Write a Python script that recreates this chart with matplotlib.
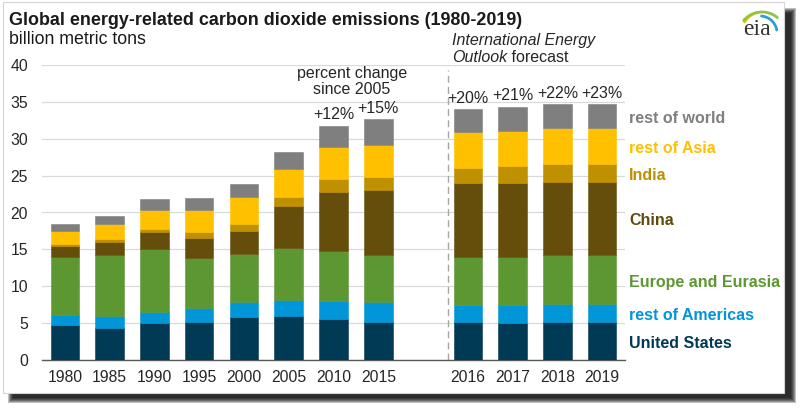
import numpy as np
import matplotlib
matplotlib.use('Agg')
import matplotlib.pyplot as plt
from matplotlib.patches import Rectangle

plt.rcParams['font.family'] = ['Liberation Sans', 'DejaVu Sans']

# ---- data (billion metric tons) ----
years = ['1980', '1985', '1990', '1995', '2000', '2005', '2010', '2015',
         '2016', '2017', '2018', '2019']
us = [4.7, 4.4, 5.0, 5.2, 5.8, 6.0, 5.6, 5.2, 5.2, 5.0, 5.2, 5.2]
rest_americas = [1.4, 1.5, 1.5, 1.9, 2.0, 2.2, 2.4, 2.6, 2.3, 2.5, 2.4, 2.4]
europe_eurasia = [7.9, 8.3, 8.6, 6.7, 6.6, 7.0, 6.8, 6.4, 6.5, 6.5, 6.6, 6.6]
china = [1.5, 1.8, 2.3, 2.8, 3.1, 5.7, 8.0, 8.8, 10.0, 10.0, 10.0, 10.0]
india = [0.2, 0.35, 0.4, 0.7, 0.9, 1.2, 1.8, 1.8, 2.1, 2.3, 2.4, 2.4]
rest_asia = [1.8, 2.1, 2.6, 3.1, 3.7, 3.8, 4.3, 4.4, 4.8, 4.75, 4.85, 4.85]
rest_world = [1.0, 1.05, 1.4, 1.6, 1.8, 2.35, 2.85, 3.45, 3.1, 3.25, 3.2, 3.2]
pct_change = ['', '', '', '', '', '', '+12%', '+15%', '+20%', '+21%', '+22%', '+23%']
n_history = 8

series = [
    ('United States', us, '#003a54', '#003953'),
    ('rest of Americas', rest_americas, '#0096d7', '#0096d7'),
    ('Europe and Eurasia', europe_eurasia, '#5d9732', '#5d9732'),
    ('China', china, '#654e0b', '#5f4b0b'),
    ('India', india, '#bf9000', '#bf9000'),
    ('rest of Asia', rest_asia, '#ffc000', '#ffc000'),
    ('rest of world', rest_world, '#7f7f7f', '#7f7f7f'),
]

W, H = 800, 411
fig = plt.figure(figsize=(W / 100, H / 100), dpi=100)

# overlay in pixel coords (top-left origin) for frame, titles, logo
ov = fig.add_axes([0, 0, 1, 1], zorder=-1)
ov.set_xlim(0, W)
ov.set_ylim(H, 0)
ov.axis('off')

# blurred drop shadow + white card
for k in range(6):
    ov.add_patch(Rectangle((8 + k, 8 + k), 788 - 2 * k, 395 - 2 * k,
                           facecolor='black', edgecolor='none', alpha=0.25))
ov.add_patch(Rectangle((3, 2), 781, 391, facecolor='white',
                       edgecolor='#d4d4d4', lw=0.8))

ov.text(9, 25, 'Global energy-related carbon dioxide emissions (1980-2019)',
        fontsize=12.9, fontweight='bold', color='#1a1a1a', va='baseline')
ov.text(9, 44, 'billion metric tons', fontsize=12.8, color='#1a1a1a',
        va='baseline')

ov.text(452, 45, 'International Energy', fontsize=11.5, style='italic',
        color='#262626', va='baseline')
t_out = ov.text(452, 62.5, 'Outlook', fontsize=11.5, style='italic',
                color='#262626', va='baseline')

# eia logo
ov.text(757, 35, 'eia', fontsize=17, family='Liberation Serif',
        color='#333333', ha='center', va='baseline')
for (cx, cy, r, t0, t1, c) in [(762, 32, 20, 150, 100, '#f5c400'),
                                (762, 36, 24, 140, 50, '#8dc63f'),
                                (760, 33, 17, 85, 10, '#2a9fd8')]:
    th = np.radians(np.linspace(t0, t1, 30))
    ov.plot(cx + r * np.cos(th), cy - r * np.sin(th), color=c, lw=2,
            solid_capstyle='round')

# ---- main chart ----
ax = fig.add_axes([42 / W, 51 / H, 583 / W, 295 / H])
ax.set_facecolor('none')

idx = np.arange(len(years))
xpos = idx + (idx >= n_history)
width = 0.64

bottom = np.zeros(len(years))
for name, vals, col, tcol in series:
    vals = np.array(vals)
    ax.bar(xpos, vals, width, bottom=bottom, color=col, edgecolor=col,
           lw=0.4, zorder=3)
    # label to the right of the last bar
    mid = bottom[-1] + vals[-1] / 2 - 0.35
    ax.text(xpos[-1] + 0.6, mid, name, color=tcol, fontsize=11.5,
            fontweight='bold', va='center', ha='left', clip_on=False)
    bottom = bottom + vals

for x, top, lab in zip(xpos, bottom, pct_change):
    if lab:
        ax.text(x, top + 0.9, lab, ha='center', va='baseline',
                fontsize=11.5, color='#262626')

ax.text(xpos[6] + 0.41, 37.8, 'percent change\nsince 2005', ha='center',
        va='center', fontsize=11.5, color='#262626', linespacing=1.1)

ax.plot([xpos[n_history] - 0.45] * 2, [0, 39.3], color='#a6a6a6', lw=1,
        ls=(0, (5, 3)), zorder=2, clip_on=False)

ax.set_xlim(-0.51, xpos[-1] + 0.51)
ax.set_ylim(0, 40)
ax.set_yticks(np.arange(0, 41, 5))
ax.set_xticks(xpos)
ax.set_xticklabels(years)
ax.yaxis.grid(True, color='#d9d9d9', lw=0.9)
ax.set_axisbelow(True)
for s in ['left', 'right', 'top']:
    ax.spines[s].set_visible(False)
ax.spines['bottom'].set_color('#595959')
ax.spines['bottom'].set_linewidth(1.0)
ax.tick_params(axis='both', length=0, labelsize=11.3, labelcolor='#262626')
ax.tick_params(axis='x', pad=7)
ax.tick_params(axis='y', pad=10)

# "Outlook" italic followed by regular "forecast"
r = fig.canvas.get_renderer()
bb = t_out.get_window_extent(r)
x_end = ov.transData.inverted().transform((bb.x1, bb.y0))[0]
ov.text(x_end, 62.5, ' forecast', fontsize=11.5, color='#262626',
        va='baseline')

fig.savefig('out.png', dpi=100)
